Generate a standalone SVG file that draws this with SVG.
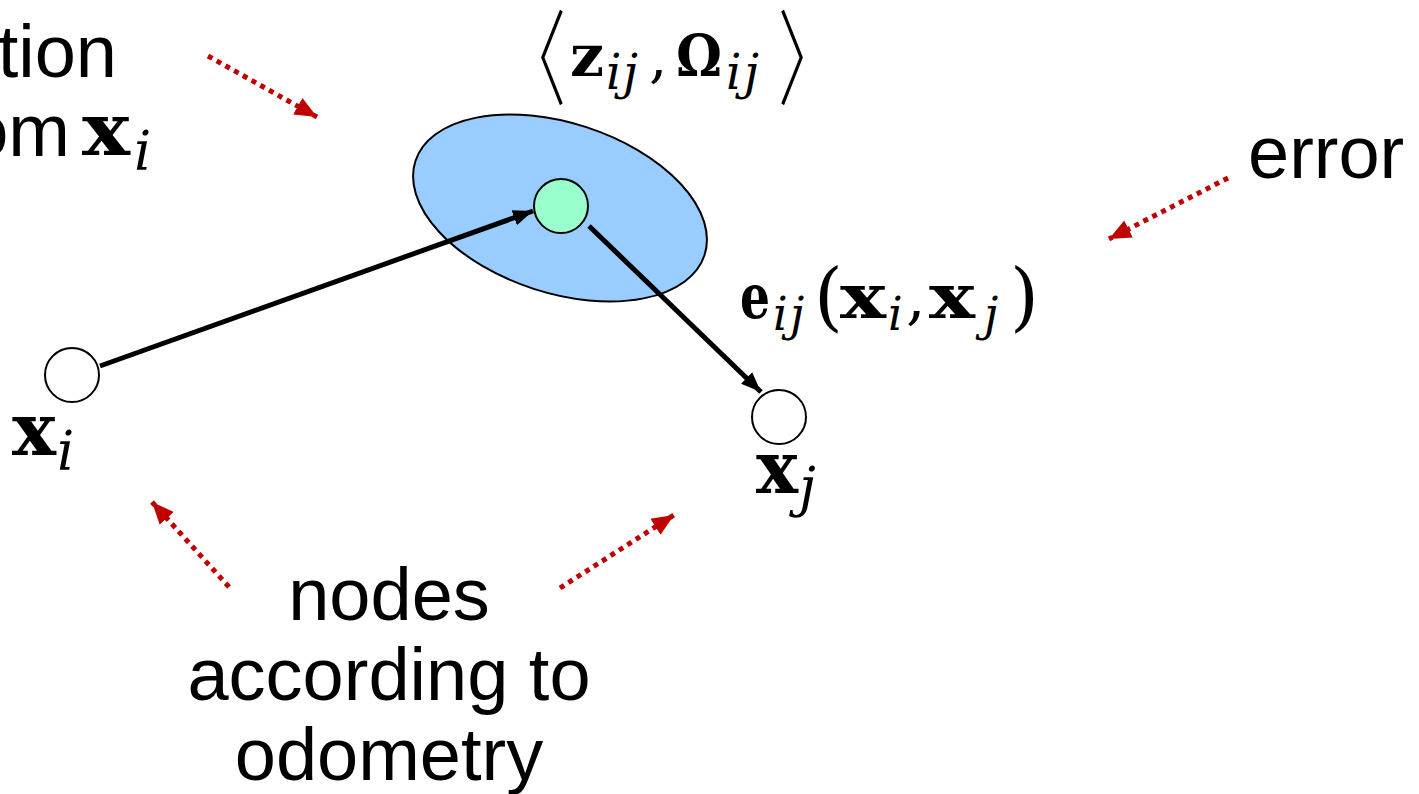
<svg xmlns="http://www.w3.org/2000/svg" width="1419" height="794" viewBox="0 0 1419 794">
<style>
.sans{font-family:"Liberation Sans",Arial,sans-serif;font-size:74px;fill:#000}
.mb{font-family:"DejaVu Serif",serif;font-weight:bold;fill:#000}
.mi{font-family:"DejaVu Serif",serif;font-style:italic;fill:#000}
.mr{font-family:"DejaVu Serif",serif;fill:#000}
.br{font-family:"Noto Sans CJK JP","Noto Sans CJK SC",sans-serif;font-size:106px;fill:#000;stroke:#fff;stroke-width:2.4}
.node{fill:#fff;stroke:#000;stroke-width:2}
.edge{stroke:#000;stroke-width:5;fill:none}
.hint{stroke:#c00000;stroke-width:5;stroke-dasharray:5 5;fill:none}
</style>
<defs>
<marker id="ab" markerUnits="userSpaceOnUse" markerWidth="22" markerHeight="18" refX="20" refY="8" orient="auto" viewBox="0 0 22 16">
<path d="M0,0 L20,8 L0,16 Z" fill="#000"/>
</marker>
<marker id="ar" markerUnits="userSpaceOnUse" markerWidth="24" markerHeight="20" refX="22" refY="9.5" orient="auto" viewBox="0 0 24 19">
<path d="M0,0 L22,9.5 L0,19 Z" fill="#c00000"/>
</marker>
</defs>

<g id="ellipse">
<ellipse cx="560" cy="208" rx="152" ry="85" transform="rotate(18 560 208)" fill="#99ccff" stroke="#000" stroke-width="2"/>
</g>

<g id="connectors">
<line class="edge" x1="100" y1="366" x2="533" y2="211" marker-end="url(#ab)"/>
<line class="edge" x1="589" y1="226" x2="761" y2="392" marker-end="url(#ab)"/>
<line class="hint" x1="208" y1="56" x2="317" y2="117" marker-end="url(#ar)"/>
<line class="hint" x1="1228" y1="178" x2="1109" y2="239" marker-end="url(#ar)"/>
<line class="hint" x1="229" y1="587" x2="152" y2="502" marker-end="url(#ar)"/>
<line class="hint" x1="560" y1="588" x2="674" y2="515" marker-end="url(#ar)"/>
</g>

<g id="node-xi">
<circle class="node" cx="72" cy="375" r="27"/>
<text class="mb" font-size="72" x="12" y="455" textLength="44" lengthAdjust="spacingAndGlyphs">x</text>
<text class="mi" font-size="54" x="57" y="470">i</text>
</g>

<g id="node-xj">
<circle class="node" cx="779" cy="417" r="27"/>
<text class="mb" font-size="72" x="756" y="493" textLength="42" lengthAdjust="spacingAndGlyphs">x</text>
<text class="mi" font-size="54" x="799" y="506">j</text>
</g>

<g id="node-z">
<circle cx="561" cy="206" r="27" fill="#99ffcc" stroke="#000" stroke-width="2"/>
</g>

<g id="label-measurement">
<text class="br" x="809" y="97" transform="scale(0.62 1)">〈</text>
<text class="mb" font-size="58" x="570" y="76" textLength="34" lengthAdjust="spacingAndGlyphs">z</text>
<text class="mi" font-size="48" x="606" y="89">i</text>
<text class="mi" font-size="48" x="623" y="89">j</text>
<text class="mr" font-size="58" x="649" y="76">,</text>
<text class="mb" font-size="58" x="676" y="76" textLength="46" lengthAdjust="spacingAndGlyphs">Ω</text>
<text class="mi" font-size="48" x="726" y="89">i</text>
<text class="mi" font-size="48" x="744" y="89">j</text>
<text class="br" x="1253" y="97" transform="scale(0.62 1)">〉</text>
</g>

<g id="label-error-fn">
<text class="mb" font-size="62" x="740" y="318" textLength="30" lengthAdjust="spacingAndGlyphs">e</text>
<text class="mi" font-size="46" x="773" y="330">i</text>
<text class="mi" font-size="46" x="790" y="330">j</text>
<text class="mr" font-size="74" x="814" y="322">(</text>
<text class="mb" font-size="62" x="840" y="318" textLength="46" lengthAdjust="spacingAndGlyphs">x</text>
<text class="mi" font-size="46" x="888" y="330">i</text>
<text class="mr" font-size="62" x="906" y="318">,</text>
<text class="mb" font-size="62" x="929" y="318" textLength="46" lengthAdjust="spacingAndGlyphs">x</text>
<text class="mi" font-size="46" x="984" y="330">j</text>
<text class="mr" font-size="74" x="1010" y="322">)</text>
</g>

<g id="label-observation">
<text class="sans" x="117" y="77" text-anchor="end">tion</text>
<text class="sans" x="70" y="156" text-anchor="end">om</text>
<text class="mb" font-size="72" x="82" y="155" textLength="48" lengthAdjust="spacingAndGlyphs">x</text>
<text class="mi" font-size="54" x="134" y="170">i</text>
</g>

<g id="label-error">
<text class="sans" x="1248" y="178">error</text>
</g>

<g id="label-nodes">
<text class="sans" x="389" y="620" text-anchor="middle">nodes</text>
<text class="sans" x="389" y="700" text-anchor="middle">according to</text>
<text class="sans" x="389" y="780" text-anchor="middle">odometry</text>
</g>
</svg>
